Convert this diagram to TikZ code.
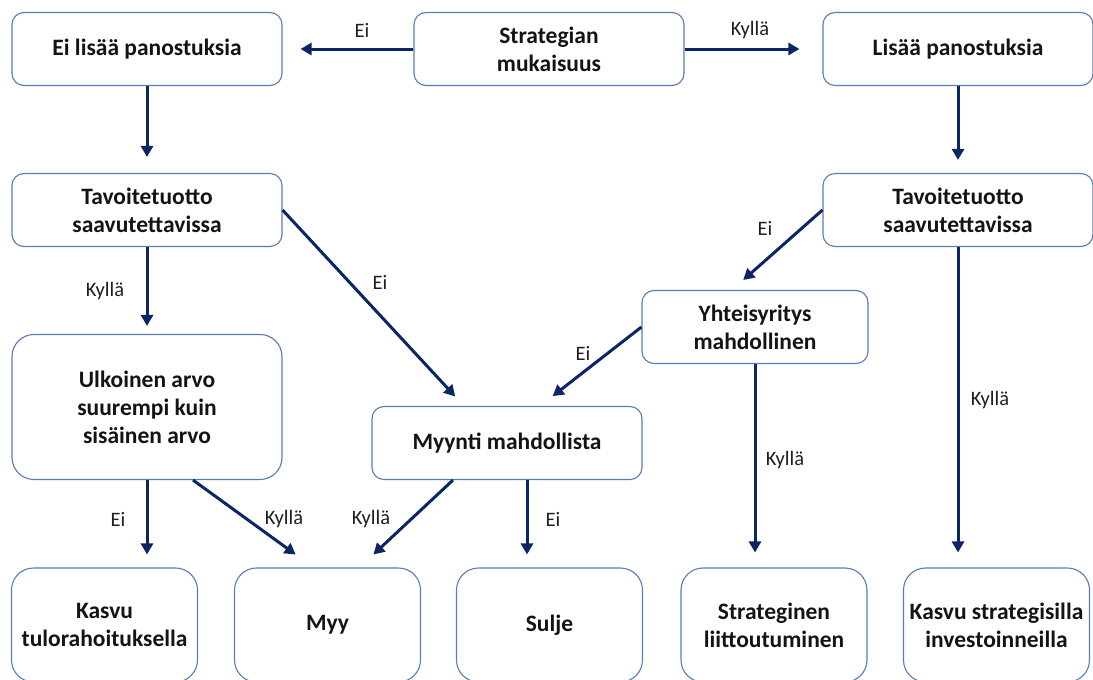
\documentclass[tikz,border=0pt]{standalone}
\usepackage{fontspec}
\setmainfont{Carlito}
\usetikzlibrary{arrows.meta}
\definecolor{boxline}{HTML}{5A7BB5}
\definecolor{navy}{HTML}{0B2565}
\begin{document}
\begin{tikzpicture}[x=1pt,y=-1pt,
  box/.style={draw=boxline,line width=1.1pt,rounded corners=12pt,fill=white,
    align=center,font=\bfseries\fontsize{23.5}{28}\selectfont,text=black!92,inner sep=0pt,
    minimum width=270pt,minimum height=73pt},
  tall/.style={box,rounded corners=22pt},
  leaf/.style={box,rounded corners=22pt,minimum width=186pt,minimum height=114pt},
  flow/.style={draw=navy,line width=3pt,-{Triangle[length=11pt,width=12pt]}},
  lbl/.style={font=\fontsize{20.5}{24}\selectfont,text=black!88}]
\useasboundingbox[fill=white] (0,0) rectangle (1093,680);

% top row
\node[box] (noinv) at (147,49) {Ei lisää panostuksia};
\node[box] (strat) at (549,49) {Strategian\\mukaisuus};
\node[box] (inv)   at (958,49) {Lisää panostuksia};

% second level
\node[box] (tgtL) at (147,210) {Tavoitetuotto\\saavutettavissa};
\node[box] (tgtR) at (958,210) {Tavoitetuotto\\saavutettavissa};
\node[box,minimum width=226pt] (joint) at (755,327) {Yhteisyritys\\mahdollinen};
\node[tall,minimum height=145pt] (ext) at (147,407) {Ulkoinen arvo\\suurempi kuin\\sisäinen arvo};
\node[box] (sale) at (507,443) {Myynti mahdollista};

% outcomes
\node[leaf] (grow)  at (104.5,625) {Kasvu\\tulorahoituksella};
\node[leaf] (sell)  at (327.5,625) {Myy};
\node[leaf] (close) at (549.5,625) {Sulje};
\node[leaf] (ally)  at (774,625)   {Strateginen\\liittoutuminen};
\node[leaf] (sinv)  at (996.5,625) {Kasvu strategisilla\\investoinneilla};

% connectors
\draw[flow,shorten >=18pt] (strat.west) -- (noinv.east);
\draw[flow,shorten >=23pt] (strat.east) -- (inv.west);
\draw[flow,shorten >=16pt] (noinv.south) -- (tgtL.north);
\draw[flow,shorten >=13pt] (inv.south) -- (tgtR.north);
\draw[flow,shorten >=8pt] (tgtL.south) -- (ext.north);
\draw[flow,shorten >=13pt] (tgtL.east) -- ([xshift=-43pt]sale.north);
\draw[flow,shorten >=15pt] (tgtR.west) -- ([xshift=-23pt]joint.north);
\draw[flow,shorten >=16pt] (joint.west) -- ([xshift=33pt]sale.north);
\draw[flow,shorten >=15pt] (joint.south) -- (joint.south |- ally.north);
\draw[flow,shorten >=15pt] (tgtR.south) -- (tgtR.south |- sinv.north);
\draw[flow,shorten >=13pt] (ext.south) -- (ext.south |- grow.north);
\draw[flow,shorten >=22pt] ([xshift=46pt]ext.south) -- ([xshift=-14pt]sell.north);
\draw[flow,shorten >=19pt] ([xshift=-54pt]sale.south) -- ([xshift=32pt]sell.north);
\draw[flow,shorten >=13pt] ([xshift=20pt]sale.south) -- ([xshift=20pt]sale.south |- close.north);

% branch labels
\node[lbl] (l1)  at (362,30)  {Ei};
\node[lbl] (l2)  at (750,30)  {Kyllä};
\node[lbl] (l3)  at (105,291) {Kyllä};
\node[lbl] (l4)  at (380,282) {Ei};
\node[lbl] (l5)  at (765,228) {Ei};
\node[lbl] (l6)  at (583,353) {Ei};
\node[lbl] (l7)  at (785,460) {Kyllä};
\node[lbl] (l8)  at (990,400) {Kyllä};
\node[lbl] (l9)  at (118,519) {Ei};
\node[lbl] (l10) at (284,519) {Kyllä};
\node[lbl] (l11) at (371,519) {Kyllä};
\node[lbl] (l12) at (553,519) {Ei};
\end{tikzpicture}
\end{document}
